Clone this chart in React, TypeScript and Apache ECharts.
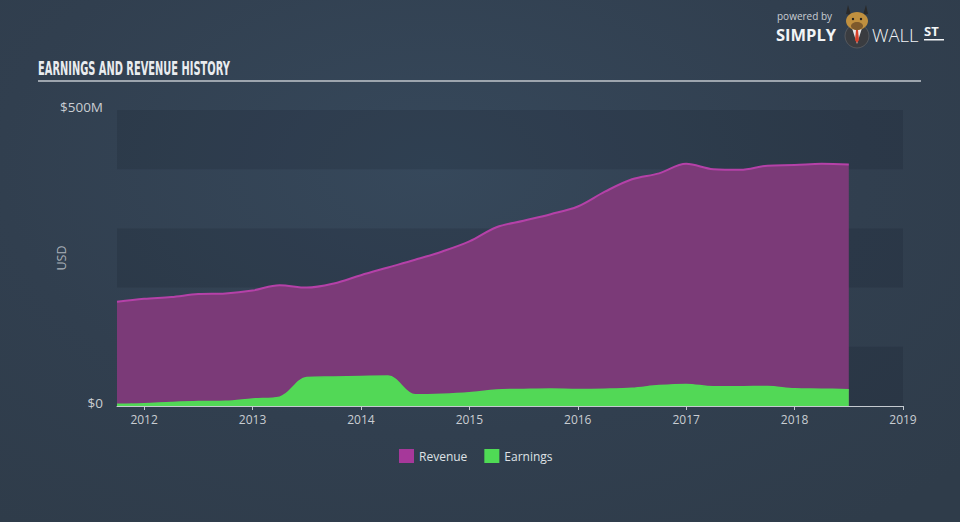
import React, { useEffect, useRef } from "react";
import * as echarts from "echarts";

const quarters = [
  2011.75, 2012.0, 2012.25, 2012.5, 2012.75, 2013.0, 2013.25, 2013.5, 2013.75,
  2014.0, 2014.25, 2014.5, 2014.75, 2015.0, 2015.25, 2015.5, 2015.75, 2016.0,
  2016.25, 2016.5, 2016.75, 2017.0, 2017.25, 2017.5, 2017.75, 2018.0, 2018.25, 2018.5,
];
const revenue = [
  176, 181, 184, 189, 190, 195, 204, 200, 207, 221, 234, 247, 261, 278, 302, 313,
  324, 337, 362, 383, 393, 409, 400, 399, 406, 407, 409, 408,
];
const earnings = [
  3, 4, 6, 7.5, 8, 12, 15, 48, 49, 50, 50.5, 19, 20, 22.5, 27, 28, 28.7, 28, 28.5,
  30, 34.5, 36.5, 32.5, 32.5, 33, 29, 28.5, 27.5,
];
const yearTicks = [2012, 2013, 2014, 2015, 2016, 2017, 2018, 2019];
const seriesNames = ["Revenue", "Earnings"];
const titleText = "EARNINGS AND REVENUE HISTORY";

function measure(text: string, font: string): number {
  const c = document.createElement("canvas");
  const ctx = c.getContext("2d");
  if (!ctx) return 0;
  ctx.font = font;
  return ctx.measureText(text).width;
}

export default function App() {
  const ref = useRef<HTMLDivElement>(null);

  useEffect(() => {
    document.body.style.margin = "0";
    if (!ref.current) return;
    const chart = echarts.init(ref.current, null, { renderer: "svg" });

    const titleFont = 'bold 19px "Liberation Sans Narrow", "DejaVu Sans Condensed", sans-serif';
    const tw = measure(titleText, titleFont) || 290;
    const titleScale = 192 / tw;

    const revData = quarters.map((q, i) => [q, revenue[i]]);
    const earnData = quarters.map((q, i) => [q, earnings[i]]);

    const font = '"Open Sans", sans-serif';

    chart.setOption({
      animation: false,
      backgroundColor: "transparent",
      textStyle: { fontFamily: font },
      grid: { left: 117, right: 57, top: 110, bottom: 116, containLabel: false },
      legend: {
        left: 399,
        top: 449,
        padding: 0,
        icon: "rect",
        itemWidth: 15,
        itemHeight: 14,
        itemGap: 17,
        textStyle: { color: "#dfe2e6", fontSize: 12, fontFamily: font },
        data: seriesNames,
      },
      xAxis: {
        type: "value",
        min: 2011.75,
        max: 2019,
        axisLine: { show: true, lineStyle: { color: "#c5cad0", width: 1 } },
        axisTick: {
          show: true,
          customValues: yearTicks,
          length: 4,
          lineStyle: { color: "#c5cad0" },
        },
        axisLabel: {
          customValues: yearTicks,
          color: "#c9cdd2",
          fontSize: 12,
          margin: 7,
          fontFamily: font,
          formatter: (v: number) => String(Math.round(v)),
        },
        splitLine: { show: false },
      },
      yAxis: {
        type: "value",
        min: 0,
        max: 500,
        interval: 100,
        name: "USD",
        nameLocation: "middle",
        nameGap: 49,
        nameMoveOverlap: false,
        nameRotate: 90,
        nameTextStyle: { color: "#aab1b9", fontSize: 12.5, fontFamily: font },
        axisLine: { show: false },
        axisTick: { show: false },
        splitLine: { show: false },
        splitArea: {
          show: true,
          areaStyle: { color: ["rgba(15,22,32,0.15)", "rgba(255,255,255,0.0)"] },
        },
        axisLabel: {
          color: "#c9cdd2",
          fontSize: 13.5,
          margin: 14,
          fontFamily: font,
          verticalAlign: "bottom",
          lineHeight: 6,
          formatter: (v: number) => (v === 0 ? "$0" : v === 500 ? "$500M" : ""),
        },
      },
      series: [
        {
          name: seriesNames[0],
          type: "line",
          data: revData,
          smooth: 0.35,
          symbol: "none",
          itemStyle: { color: "#a6389a" },
          lineStyle: { color: "#b541a8", width: 2 },
          areaStyle: { color: "#7b3a78", opacity: 1 },
          z: 2,
        },
        {
          name: seriesNames[1],
          type: "line",
          data: earnData,
          smooth: 0.35,
          symbol: "none",
          itemStyle: { color: "#4fdb55" },
          lineStyle: { color: "#52d856", width: 1.5 },
          areaStyle: { color: "#52d856", opacity: 1 },
          z: 3,
        },
      ],
      graphic: [
        {
          type: "text",
          x: 38,
          y: 59,
          scaleX: titleScale,
          style: {
            text: titleText,
            font: titleFont,
            fill: "#e9ecef",
          },
        },
        {
          type: "rect",
          shape: { x: 38, y: 80, width: 883, height: 2 },
          style: { fill: "#9da5ae" },
        },
        {
          type: "text",
          x: 777,
          y: 15.5,
          style: {
            text: "powered by",
            font: '10px "Open Sans", sans-serif',
            fill: "#c9ced4",
            verticalAlign: "middle",
          },
        },
        {
          type: "text",
          x: 776,
          y: 34,
          style: {
            text: "SIMPLY",
            font: 'bold 16.5px "Open Sans", sans-serif',
            fill: "#f2f4f6",
            verticalAlign: "middle",
          },
        },
        {
          type: "text",
          x: 872,
          y: 34,
          style: {
            text: "WALL",
            font: '300 18.5px "Open Sans", sans-serif',
            fill: "#f2f4f6",
            verticalAlign: "middle",
          },
        },
        {
          type: "text",
          x: 924,
          y: 31,
          style: {
            text: "ST",
            font: 'bold 13px "Open Sans", sans-serif',
            fill: "#f2f4f6",
            verticalAlign: "middle",
          },
        },
        {
          type: "rect",
          shape: { x: 924, y: 39, width: 20, height: 1.5 },
          style: { fill: "#f2f4f6" },
        },
        {
          type: "group",
          children: [
            { type: "circle", shape: { cx: 857, cy: 36, r: 12 }, style: { fill: "#3a3c40", stroke: "#55585d", lineWidth: 1 } },
            { type: "polygon", shape: { points: [[852, 28], [862, 28], [857, 44]] }, style: { fill: "#e8e8e8" } },
            { type: "polygon", shape: { points: [[856, 30], [858, 30], [859, 40], [857, 43], [855, 40]] }, style: { fill: "#d8402a" } },
            { type: "polygon", shape: { points: [[846, 14], [848, 5], [851, 15]] }, style: { fill: "#2a2a2a" } },
            { type: "polygon", shape: { points: [[868, 14], [866, 5], [863, 15]] }, style: { fill: "#2a2a2a" } },
            { type: "ellipse", shape: { cx: 857, cy: 21, rx: 11, ry: 9 }, style: { fill: "#c0903f" } },
            { type: "ellipse", shape: { cx: 857, cy: 26, rx: 6, ry: 4 }, style: { fill: "#7e5a2c" } },
            { type: "circle", shape: { cx: 853, cy: 19, r: 1.2 }, style: { fill: "#1e1e1e" } },
            { type: "circle", shape: { cx: 861, cy: 19, r: 1.2 }, style: { fill: "#1e1e1e" } },
          ],
        },
      ],
    });

    return () => chart.dispose();
  }, []);

  return (
    <div
      ref={ref}
      style={{
        width: 960,
        height: 522,
        background:
          "radial-gradient(ellipse 75% 85% at 45% 32%, #36485b 0%, #313f4f 60%, #2f3c4a 100%)",
      }}
    />
  );
}
